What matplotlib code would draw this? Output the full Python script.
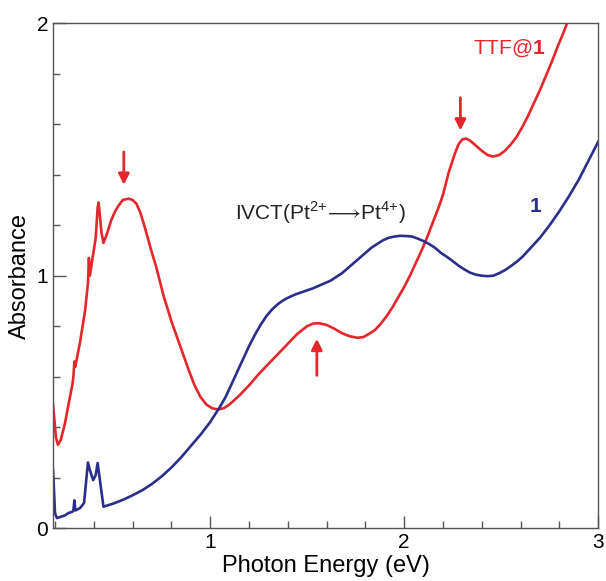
import matplotlib
matplotlib.use('Agg')
import matplotlib.pyplot as plt
from matplotlib.ticker import MultipleLocator

plt.rcParams['font.family'] = ['Liberation Sans', 'DejaVu Sans']
plt.rcParams['mathtext.fontset'] = 'custom'
plt.rcParams['mathtext.rm'] = 'Liberation Sans'
plt.rcParams['mathtext.sf'] = 'Liberation Sans'
plt.rcParams['mathtext.bf'] = 'Liberation Sans:bold'

# TTF@1 spectrum
ttf_e = [0.19, 0.205, 0.215, 0.23, 0.25, 0.27, 0.29, 0.295, 0.30, 0.305, 0.33,
         0.355, 0.37, 0.375, 0.38, 0.39, 0.41, 0.42, 0.425, 0.44, 0.45, 0.47,
         0.49, 0.51, 0.53, 0.55, 0.58, 0.60, 0.62, 0.64, 0.66, 0.68, 0.70,
         0.72, 0.74, 0.76, 0.78, 0.80, 0.83, 0.86, 0.89, 0.92, 0.95, 0.98,
         1.01, 1.04, 1.07, 1.10, 1.15, 1.20, 1.25, 1.30, 1.35, 1.40, 1.45,
         1.50, 1.53, 1.56, 1.60, 1.64, 1.68, 1.72, 1.76, 1.79, 1.82, 1.85,
         1.88, 1.91, 1.94, 1.97, 2.00, 2.03, 2.06, 2.09, 2.12, 2.15, 2.18,
         2.20, 2.23, 2.26, 2.28, 2.30, 2.32, 2.34, 2.37, 2.40, 2.43, 2.46,
         2.49, 2.52, 2.55, 2.58, 2.61, 2.64, 2.67, 2.70, 2.73, 2.76, 2.79,
         2.82, 2.85]
ttf_abs = [0.49, 0.36, 0.33, 0.35, 0.41, 0.49, 0.57, 0.60, 0.66, 0.64, 0.74,
           0.86, 0.97, 1.07, 1.00, 1.05, 1.15, 1.27, 1.29, 1.17, 1.13, 1.17,
           1.22, 1.255, 1.28, 1.30, 1.305, 1.30, 1.285, 1.25, 1.20, 1.145, 1.09,
           1.04, 0.98, 0.92, 0.87, 0.82, 0.755, 0.69, 0.625, 0.565, 0.52, 0.49,
           0.475, 0.47, 0.475, 0.49, 0.525, 0.565, 0.61, 0.65, 0.69, 0.73, 0.77,
           0.80, 0.81, 0.812, 0.805, 0.79, 0.772, 0.76, 0.754, 0.757, 0.77, 0.785,
           0.81, 0.84, 0.875, 0.915, 0.955, 1.00, 1.05, 1.10, 1.155, 1.215, 1.275,
           1.32, 1.41, 1.48, 1.52, 1.54, 1.543, 1.535, 1.515, 1.495, 1.478, 1.472,
           1.478, 1.495, 1.52, 1.55, 1.59, 1.635, 1.685, 1.735, 1.79, 1.845, 1.905,
           1.96, 2.02]

# compound 1 spectrum
c1_e = [0.19, 0.195, 0.20, 0.21, 0.23, 0.25, 0.27, 0.29, 0.295, 0.30, 0.305,
        0.33, 0.35, 0.36, 0.37, 0.38, 0.397, 0.41, 0.42, 0.43, 0.45, 0.50,
        0.55, 0.60, 0.65, 0.70, 0.75, 0.80, 0.85, 0.90, 0.95, 1.00, 1.05,
        1.08, 1.11, 1.14, 1.17, 1.20, 1.23, 1.26, 1.29, 1.32, 1.35, 1.38,
        1.41, 1.44, 1.47, 1.50, 1.53, 1.56, 1.59, 1.62, 1.65, 1.68, 1.71,
        1.74, 1.77, 1.80, 1.83, 1.86, 1.89, 1.92, 1.95, 1.98, 2.01, 2.04,
        2.07, 2.10, 2.13, 2.16, 2.19, 2.22, 2.25, 2.28, 2.31, 2.34, 2.37,
        2.40, 2.43, 2.46, 2.49, 2.52, 2.55, 2.58, 2.61, 2.64, 2.67, 2.70,
        2.75, 2.80, 2.85, 2.90, 2.95, 3.00]
c1_abs = [0.23, 0.15, 0.06, 0.04, 0.045, 0.05, 0.06, 0.065, 0.07, 0.11, 0.07,
          0.08, 0.10, 0.18, 0.26, 0.23, 0.19, 0.21, 0.258, 0.20, 0.085, 0.097,
          0.112, 0.13, 0.15, 0.175, 0.205, 0.24, 0.28, 0.325, 0.37, 0.42, 0.48,
          0.52, 0.57, 0.62, 0.67, 0.72, 0.765, 0.805, 0.84, 0.867, 0.888, 0.904,
          0.916, 0.926, 0.934, 0.942, 0.95, 0.96, 0.97, 0.98, 0.995, 1.01, 1.03,
          1.05, 1.07, 1.09, 1.11, 1.125, 1.14, 1.15, 1.155, 1.158, 1.157, 1.155,
          1.147, 1.137, 1.125, 1.11, 1.09, 1.075, 1.058, 1.04, 1.025, 1.012, 1.004,
          1.0, 0.998, 1.0, 1.01, 1.022, 1.038, 1.055, 1.075, 1.10, 1.125, 1.15,
          1.20, 1.255, 1.315, 1.38, 1.455, 1.53]

red = '#e5262b'
blue = '#2b2f8c'

fig = plt.figure(figsize=(6.06, 5.81), dpi=100)
ax = fig.add_axes([0.0875, 0.091, 0.8995, 0.869])

ax.plot(ttf_e, ttf_abs, color=red, lw=1.9)
ax.plot(c1_e, c1_abs, color=blue, lw=1.9)

# band markers
arrow_kw = dict(arrowstyle='-|>', color=red, lw=2, mutation_scale=16, shrinkA=0, shrinkB=0)
ax.annotate('', xy=(0.555, 1.36), xytext=(0.555, 1.49), arrowprops=arrow_kw)
ax.annotate('', xy=(2.29, 1.575), xytext=(2.29, 1.705), arrowprops=arrow_kw)
ax.annotate('', xy=(1.55, 0.75), xytext=(1.55, 0.605), arrowprops=arrow_kw)

ax.text(2.73, 1.90, 'TTF@$\\mathbf{1}$', color=red, fontsize=15, ha='right', va='center')
ax.text(2.71, 1.275, '1', color=blue, fontsize=15, fontweight='bold', ha='right', va='center')
ax.text(1.13, 1.25, r'IVCT(Pt$^{2{+}}\!\longrightarrow\!$Pt$^{4{+}}$)', color='#222222',
        fontsize=15, ha='left', va='center')

ax.set_xlim(0.19, 3.0)
ax.set_ylim(0, 2)
ax.xaxis.set_major_locator(MultipleLocator(1))
ax.xaxis.set_minor_locator(MultipleLocator(0.2))
ax.yaxis.set_major_locator(MultipleLocator(1))
ax.yaxis.set_minor_locator(MultipleLocator(0.2))
ax.tick_params(which='both', direction='in', top=False, right=False, color='#555555',
               labelsize=15)
ax.tick_params(which='major', length=9, width=1)
ax.tick_params(which='minor', length=5, width=1)
for s in ax.spines.values():
    s.set_color('#555555')
    s.set_linewidth(1)

ax.set_xlabel('Photon Energy (eV)', fontsize=17, labelpad=2)
ax.set_ylabel('Absorbance', fontsize=17, labelpad=4)

fig.savefig('out.png', dpi=100)
